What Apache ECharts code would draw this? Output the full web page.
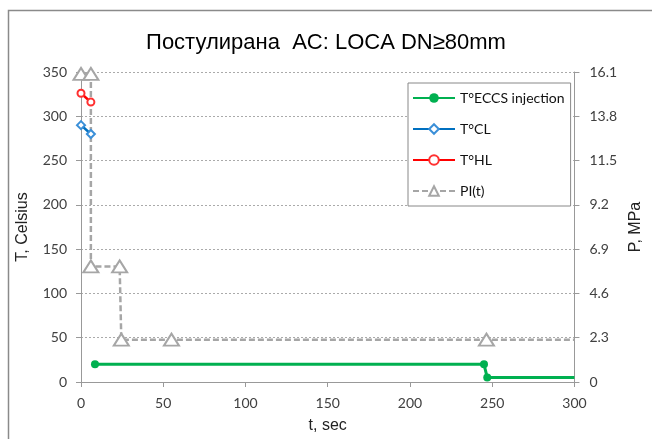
<!DOCTYPE html>
<html>
<head>
<meta charset="utf-8">
<script src="https://cdn.jsdelivr.net/npm/echarts@6/dist/echarts.min.js"></script>
<style>
    html, body { margin: 0; padding: 0; background: #fff; }
    #chart { width: 652px; height: 439px; }
</style>
</head>
<body>
<div id="chart"></div>
<script>
// values
const eccsData = [[8.5, 20], [245, 20], [247, 5], [300, 5]];
const clData = [[0, 290], [6, 280]];
const hlData = [[0, 326], [6, 316]];
const piData = [[0, 16.0], [6, 16.0], [6, 6.0], [23.5, 6.0], [24.5, 2.2], [55, 2.2], [246.5, 2.2], [300, 2.2]];

const tickFont = 'Lato';
const grey = '#404040';

// last point of the step lines carries no marker
function noEndMarker(arr) {
    return arr.map((p, i) => i === arr.length - 1 ? { value: p, symbol: 'none' } : p);
}

const chart = echarts.init(document.getElementById('chart'), null, { renderer: 'canvas' });

chart.setOption({
    animation: false,
    backgroundColor: '#fff',
    title: {
        text: 'Постулирана  AC: LOCA DN≥80mm',
        left: 'center',
        top: 27,
        textStyle: { fontFamily: 'Liberation Sans', fontSize: 22, fontWeight: 'normal', color: '#000' },
    },
    graphic: [{
        type: 'rect',
        shape: { x: 8.5, y: 10.5, width: 700, height: 500 },
        style: { fill: 'none', stroke: '#8a8a8a', lineWidth: 1.5 },
        silent: true,
    }],
    legend: {
        orient: 'vertical',
        left: 408,
        top: 83,
        padding: [8, 6, 8, 4],
        backgroundColor: '#fff',
        borderColor: '#888',
        borderWidth: 1,
        itemWidth: 42,
        itemHeight: 12,
        itemGap: 17,
        textStyle: { fontFamily: tickFont, fontSize: 14, color: '#111' },
        data: ['T°ECCS injection', 'T°CL', 'T°HL', 'PI(t)'],
    },
    grid: { left: 81, right: 74, top: 72, bottom: 52 },
    xAxis: {
        type: 'value',
        min: 0, max: 300, interval: 50,
        name: 't, sec',
        nameLocation: 'middle',
        nameGap: 36,
        nameTextStyle: { fontFamily: 'Liberation Sans', fontSize: 16, color: '#222' },
        axisLine: { lineStyle: { color: '#999' } },
        axisTick: { show: true, length: 5, lineStyle: { color: '#999' } },
        axisLabel: { margin: 14, fontFamily: tickFont, fontSize: 14, color: grey },
        splitLine: { show: false },
    },
    yAxis: [
        {
            type: 'value',
            min: 0, max: 350, interval: 50,
            name: 'T, Celsius',
            nameLocation: 'middle',
            nameGap: 50,
            nameTextStyle: { fontFamily: 'Liberation Sans', fontSize: 16, color: '#222' },
            axisLine: { show: true, lineStyle: { color: '#999' } },
            axisTick: { show: true, length: 5, lineStyle: { color: '#999' } },
            axisLabel: { margin: 14, fontFamily: tickFont, fontSize: 14, color: grey },
            splitLine: { show: true, lineStyle: { color: '#aaa', type: [2, 2], width: 1 } },
        },
        {
            type: 'value',
            min: 0, max: 16.1, interval: 2.3,
            name: 'P, MPa',
            nameLocation: 'middle',
            nameGap: 49,
            nameRotate: 90,
            nameTextStyle: { fontFamily: 'Liberation Sans', fontSize: 16, color: '#222' },
            axisLine: { show: true, lineStyle: { color: '#999' } },
            axisTick: { show: true, length: 5, lineStyle: { color: '#999' } },
            axisLabel: {
                margin: 15, fontFamily: tickFont, fontSize: 14, color: grey,
                formatter: (v) => String(Number(v.toFixed(1))),
            },
            splitLine: { show: false },
        },
    ],
    series: [
        {
            name: 'T°ECCS injection', type: 'line',
            data: noEndMarker(eccsData),
            symbol: 'circle', symbolSize: 8,
            lineStyle: { color: '#00B050', width: 3 },
            itemStyle: { color: '#00B050' },
            z: 4,
        },
        {
            name: 'T°CL', type: 'line',
            data: clData,
            symbol: 'emptyDiamond', symbolSize: 8,
            lineStyle: { color: '#0070C0', width: 2.5 },
            itemStyle: { color: '#3a8fd8' },
            z: 4,
        },
        {
            name: 'T°HL', type: 'line',
            data: hlData,
            symbol: 'emptyCircle', symbolSize: 7,
            lineStyle: { color: '#FF0000', width: 2.5 },
            itemStyle: { color: '#FF3030' },
            z: 4,
        },
        {
            name: 'PI(t)', type: 'line',
            yAxisIndex: 1,
            data: noEndMarker(piData),
            symbol: 'emptyTriangle', symbolSize: [15, 12],
            lineStyle: { color: '#a6a6a6', width: 2.5, type: [6, 3] },
            itemStyle: { color: '#a6a6a6', borderWidth: 1.5 },
            z: 3,
        },
    ],
});
</script>
</body>
</html>
